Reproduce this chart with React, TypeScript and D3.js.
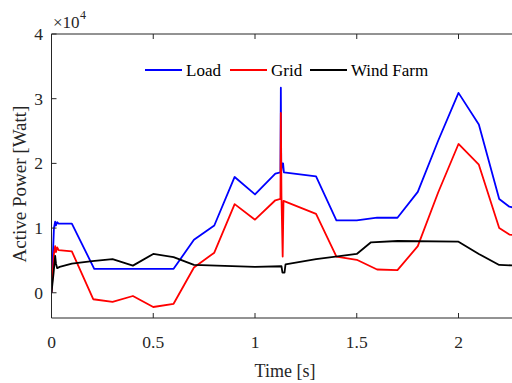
import React from "react";
import * as d3 from "d3";

const loadT = [0, 0.012, 0.018, 0.022, 0.028, 0.035, 0.1, 0.21, 0.6, 0.7, 0.8, 0.9, 1.0, 1.1, 1.125, 1.127, 1.129, 1.133, 1.138, 1.142, 1.3, 1.4, 1.5, 1.6, 1.7, 1.8, 1.9, 2.0, 2.1, 2.2, 2.25, 2.3];
const loadV = [0, 1.0, 1.1, 1.04, 1.09, 1.07, 1.07, 0.37, 0.37, 0.82, 1.04, 1.79, 1.52, 1.84, 1.86, 3.17, 1.88, 2.0, 2.0, 1.86, 1.8, 1.12, 1.12, 1.16, 1.16, 1.56, 2.35, 3.09, 2.6, 1.45, 1.33, 1.3];

const gridT = [0, 0.012, 0.018, 0.022, 0.028, 0.035, 0.1, 0.205, 0.3, 0.4, 0.5, 0.6, 0.7, 0.8, 0.9, 1.0, 1.1, 1.125, 1.127, 1.13, 1.136, 1.14, 1.3, 1.4, 1.5, 1.6, 1.7, 1.8, 1.9, 2.0, 2.1, 2.2, 2.25, 2.3];
const gridV = [0, 0.6, 0.72, 0.63, 0.7, 0.66, 0.64, -0.1, -0.14, -0.05, -0.22, -0.17, 0.39, 0.62, 1.37, 1.13, 1.43, 1.45, 2.78, 1.5, 0.56, 1.42, 1.22, 0.56, 0.51, 0.36, 0.35, 0.72, 1.55, 2.3, 1.98, 1.0, 0.9, 0.88];

const windT = [0, 0.01, 0.018, 0.022, 0.028, 0.04, 0.1, 0.2, 0.3, 0.4, 0.5, 0.6, 0.7, 1.0, 1.13, 1.135, 1.145, 1.15, 1.3, 1.5, 1.57, 1.7, 2.0, 2.1, 2.2, 2.3];
const windV = [0, 0.3, 0.57, 0.45, 0.38, 0.4, 0.45, 0.49, 0.52, 0.42, 0.6, 0.55, 0.43, 0.4, 0.41, 0.31, 0.31, 0.44, 0.52, 0.6, 0.78, 0.8, 0.79, 0.6, 0.43, 0.42];

const xTicks = [0, 0.5, 1, 1.5, 2];
const yTicks = [0, 1, 2, 3, 4];

const seriesNames = ["Load", "Grid", "Wind Farm"];
const seriesColors = ["#0000ff", "#ff0000", "#000000"];

const FONT = "'Liberation Serif', 'Times New Roman', serif";

export default function App() {
  const W = 512, H = 383;
  const left = 51.5, top = 34, bottom = 318;
  const x = d3.scaleLinear().domain([0, 1]).range([left, left + 203.5]);
  const y = d3.scaleLinear().domain([-0.39, 4]).range([bottom, top]);
  const line = d3.line<[number, number]>().x(d => x(d[0])).y(d => y(d[1]));
  const series = [
    loadT.map((t, i) => [t, loadV[i]] as [number, number]),
    gridT.map((t, i) => [t, gridV[i]] as [number, number]),
    windT.map((t, i) => [t, windV[i]] as [number, number]),
  ];
  const axisColor = "#262626";
  const legendX = [145, 230, 310];
  const legendY = 70;
  return (
    <svg width={W} height={H} style={{ position: "absolute", left: 0, top: 0, background: "#fff" }}>
      <defs>
        <clipPath id="plot">
          <rect x={left} y={top} width={W - left} height={bottom - top} />
        </clipPath>
      </defs>
      <rect x={0} y={0} width={W} height={H} fill="#fff" />
      <g clipPath="url(#plot)" fill="none" strokeWidth={1.8} strokeLinejoin="round">
        {series.map((s, i) => (
          <path key={i} d={line(s) || ""} stroke={seriesColors[i]} />
        ))}
      </g>
      <line x1={left} x2={left} y1={top} y2={bottom} stroke={axisColor} strokeWidth={1} />
      <line x1={left} x2={W} y1={bottom} y2={bottom} stroke={axisColor} strokeWidth={1} />
      <line x1={left} x2={W} y1={top} y2={top} stroke={axisColor} strokeWidth={1} />
      {xTicks.map(t => (
        <g key={"x" + t}>
          <line x1={x(t)} x2={x(t)} y1={bottom} y2={bottom - 5} stroke={axisColor} />
          <line x1={x(t)} x2={x(t)} y1={top} y2={top + 5} stroke={axisColor} />
          <text x={x(t)} y={348} textAnchor="middle" fontFamily={FONT} fontSize={17.5} fill="#262626">{String(t)}</text>
        </g>
      ))}
      {yTicks.map(t => (
        <g key={"y" + t}>
          <line x1={left} x2={left + 5} y1={y(t)} y2={y(t)} stroke={axisColor} />
          <text x={43} y={y(t) + 6} textAnchor="end" fontFamily={FONT} fontSize={17.5} fill="#262626">{String(t)}</text>
        </g>
      ))}
      <text x={53} y={28} fontFamily={FONT} fontSize={17} fill="#262626">×10</text>
      <text x={80} y={19} fontFamily={FONT} fontSize={12} fill="#262626">4</text>
      <text x={285} y={377} textAnchor="middle" fontFamily={FONT} fontSize={18} fill="#262626">Time [s]</text>
      <text transform={`translate(26,184) rotate(-90)`} textAnchor="middle" fontFamily={FONT} fontSize={19} fill="#262626">Active Power [Watt]</text>
      {seriesNames.map((n, i) => (
        <g key={n}>
          <line x1={legendX[i]} x2={legendX[i] + 37} y1={legendY} y2={legendY} stroke={seriesColors[i]} strokeWidth={1.8} />
          <text x={legendX[i] + 41} y={legendY + 6} fontFamily={FONT} fontSize={17} fill="#000">{n}</text>
        </g>
      ))}
    </svg>
  );
}
